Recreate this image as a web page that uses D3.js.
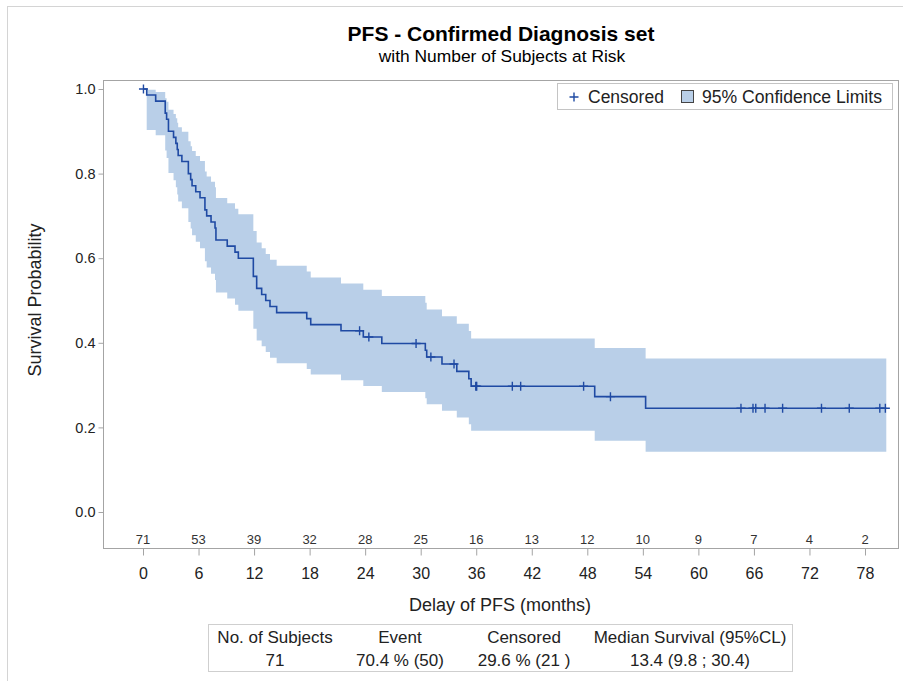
<!DOCTYPE html>
<html>
<head>
<meta charset="utf-8">
<script src="https://cdn.jsdelivr.net/npm/d3@7"></script>
<style>
	body { margin: 0; background: #fff; }
	svg { display: block; font-family: "Liberation Sans", Arial, sans-serif; }
</style>
</head>
<body>
<div id="chart"></div>
<script>
var w = 903;
var h = 681;

// axis ticks and number at risk
var xTicks = [0, 6, 12, 18, 24, 30, 36, 42, 48, 54, 60, 66, 72, 78];
var atRisk = [71, 53, 39, 32, 28, 25, 16, 13, 12, 10, 9, 7, 4, 2];
var yTicks = [0, 0.2, 0.4, 0.6, 0.8, 1.0];

// Kaplan-Meier steps (months), survival and 95% limits after each step
var stepTimes = [0, 0.4, 1.37, 2.4, 2.55, 2.75, 3.3, 3.55, 3.7, 3.8, 4.2, 4.9, 5.15, 5.3, 5.7,
	6.16, 6.69, 6.88, 7.35, 7.78, 7.88, 9.1, 9.94, 10.3, 11.92, 12.28, 12.82, 13.26, 13.72, 14.44,
	17.69, 18.12, 21.39, 23.8, 25.8, 30.5, 30.65, 32.3, 33.9, 35.2, 35.45, 48.8, 54.3];
var survival = [1, 0.9857, 0.9714, 0.9429, 0.9286, 0.9000, 0.8857, 0.8714, 0.8571, 0.8429, 0.8286, 0.8000, 0.7857, 0.7714, 0.7571,
	0.7429, 0.7143, 0.7000, 0.6857, 0.6714, 0.6429, 0.6286, 0.6143, 0.6000, 0.5571, 0.5286, 0.5143, 0.5000, 0.4857, 0.4714,
	0.4571, 0.4429, 0.4286, 0.4138, 0.3985, 0.3825, 0.3666, 0.3499, 0.3324, 0.3149, 0.2974, 0.2727, 0.2454];
var lowerCL = [1, 0.9029, 0.8906, 0.8549, 0.8369, 0.8017, 0.7844, 0.7675, 0.7508, 0.7342, 0.7179, 0.6858, 0.6700, 0.6543, 0.6388,
	0.6234, 0.5930, 0.5779, 0.5630, 0.5482, 0.5189, 0.5045, 0.4900, 0.4758, 0.4335, 0.4057, 0.3920, 0.3784, 0.3648, 0.3514,
	0.3380, 0.3248, 0.3116, 0.2980, 0.2838, 0.2691, 0.2546, 0.2394, 0.2234, 0.2077, 0.1923, 0.1684, 0.1426];
var upperCL = [1, 0.9980, 0.9928, 0.9782, 0.9696, 0.9510, 0.9411, 0.9309, 0.9205, 0.9097, 0.8988, 0.8763, 0.8648, 0.8532, 0.8414,
	0.8295, 0.8052, 0.7929, 0.7805, 0.7680, 0.7426, 0.7298, 0.7169, 0.7038, 0.6641, 0.6372, 0.6236, 0.6100, 0.5962, 0.5824,
	0.5684, 0.5544, 0.5403, 0.5257, 0.5106, 0.4948, 0.4790, 0.4625, 0.4452, 0.4277, 0.4100, 0.3875, 0.3630];
var censorTimes = [0.05, 23.4, 24.4, 29.5, 31.1, 33.6, 35.95, 36.05, 39.9, 40.8, 47.6, 50.5,
	64.6, 65.9, 66.2, 67.2, 69.1, 73.3, 76.3, 79.6, 80.2];
var lastTime = 80.3;

var tableHead = ["No. of Subjects", "Event", "Censored", "Median Survival (95%CL)"];
var tableRow = ["71", "70.4 % (50)", "29.6 % (21 )", "13.4 (9.8 ; 30.4)"];
var tableCols = [275, 400, 524, 690];

var lineColor = "#1f4aa3";
var bandColor = "#b9cfe8";
var frameColor = "#a4a4a4";

var svg = d3.select("#chart")
	.append("svg")
	.attr("width", w)
	.attr("height", h);

// outer border of the picture
svg.append("rect")
	.attr("x", 7.5).attr("y", 6.5)
	.attr("width", 920).attr("height", 700)
	.attr("fill", "none")
	.attr("stroke", "#d4d4d4");

var plot = { left: 103, top: 80, right: 898, bottom: 548 };

var x = d3.scaleLinear().domain([0, 78]).range([143, 865]);
var y = d3.scaleLinear().domain([0, 1]).range([512, 89]);

// titles
svg.append("text")
	.attr("x", 501).attr("y", 41)
	.attr("text-anchor", "middle")
	.attr("font-size", "21px")
	.attr("font-weight", "bold")
	.text("PFS - Confirmed Diagnosis set");
svg.append("text")
	.attr("x", 502).attr("y", 62)
	.attr("text-anchor", "middle")
	.attr("font-size", "17.4px")
	.text("with Number of Subjects at Risk");

// confidence band and survival curve
var pts = stepTimes.map(function (t, i) {
	return { t: t, s: survival[i], lo: lowerCL[i], hi: upperCL[i] };
});
var last = pts[pts.length - 1];
pts.push({ t: lastTime, s: last.s, lo: last.lo, hi: last.hi });

var band = d3.area()
	.curve(d3.curveStepAfter)
	.x(function (d) { return x(d.t); })
	.y0(function (d) { return y(d.lo); })
	.y1(function (d) { return y(d.hi); });

svg.append("path")
	.datum(pts)
	.attr("d", band)
	.attr("fill", bandColor);

var line = d3.line()
	.curve(d3.curveStepAfter)
	.x(function (d) { return x(d.t); })
	.y(function (d) { return y(d.s); });

svg.append("path")
	.datum(pts)
	.attr("d", line)
	.attr("fill", "none")
	.attr("stroke", lineColor)
	.attr("stroke-width", 1.6);

// censored marks
var plus = "M-4.5,0H4.5M0,-4.5V4.5";
svg.selectAll(".censor")
	.data(censorTimes)
	.enter()
	.append("path")
	.attr("class", "censor")
	.attr("d", plus)
	.attr("transform", function (t) {
		var i = d3.bisectRight(stepTimes, t) - 1;
		return "translate(" + x(t) + "," + y(survival[i]) + ")";
	})
	.attr("fill", "none")
	.attr("stroke", lineColor)
	.attr("stroke-width", 1.4);

// frame
svg.append("rect")
	.attr("x", plot.left + 0.5).attr("y", plot.top + 0.5)
	.attr("width", plot.right - plot.left).attr("height", plot.bottom - plot.top)
	.attr("fill", "none")
	.attr("stroke", frameColor);

// y axis
var yAxis = svg.append("g")
	.attr("transform", "translate(" + (plot.left + 0.5) + ",0)")
	.call(d3.axisLeft(y).tickValues(yTicks).tickFormat(d3.format(".1f")).tickSizeOuter(0).tickSize(5).tickPadding(3));
yAxis.select(".domain").remove();
yAxis.selectAll("line").attr("stroke", frameColor);
yAxis.selectAll("text")
	.attr("font-family", "Liberation Sans, Arial, sans-serif")
	.attr("font-size", "14.5px")
	.attr("fill", "#222");

// x axis
var xAxis = svg.append("g")
	.attr("transform", "translate(0," + (plot.bottom + 0.5) + ")")
	.call(d3.axisBottom(x).tickValues(xTicks).tickSizeOuter(0).tickSize(7).tickPadding(12));
xAxis.select(".domain").remove();
xAxis.selectAll("line").attr("stroke", frameColor);
xAxis.selectAll("text")
	.attr("font-family", "Liberation Sans, Arial, sans-serif")
	.attr("font-size", "16px")
	.attr("fill", "#222");

// axis labels
svg.append("text")
	.attr("x", 500).attr("y", 611)
	.attr("text-anchor", "middle")
	.attr("font-size", "18px")
	.attr("fill", "#222")
	.text("Delay of PFS (months)");
svg.append("text")
	.attr("transform", "translate(41,300) rotate(-90)")
	.attr("text-anchor", "middle")
	.attr("font-size", "18px")
	.attr("fill", "#222")
	.text("Survival Probability");

// number at risk
svg.selectAll(".risk")
	.data(xTicks)
	.enter()
	.append("text")
	.attr("class", "risk")
	.attr("x", function (d) { return x(d); })
	.attr("y", 544)
	.attr("text-anchor", "middle")
	.attr("font-size", "13px")
	.attr("fill", "#333")
	.text(function (d, i) { return atRisk[i]; });

// legend
var leg = svg.append("g");
leg.append("rect")
	.attr("x", 557.5).attr("y", 83.5)
	.attr("width", 335).attr("height", 26)
	.attr("fill", "#fff")
	.attr("stroke", "#c4c4c4");
leg.append("path")
	.attr("d", plus)
	.attr("transform", "translate(574,97)")
	.attr("stroke", lineColor)
	.attr("stroke-width", 1.4);
leg.append("text")
	.attr("x", 588).attr("y", 103)
	.attr("font-size", "17.5px")
	.attr("fill", "#222")
	.text("Censored");
leg.append("rect")
	.attr("x", 681.5).attr("y", 90.5)
	.attr("width", 12).attr("height", 12)
	.attr("fill", bandColor)
	.attr("stroke", "#444");
leg.append("text")
	.attr("x", 702).attr("y", 103)
	.attr("font-size", "17.6px")
	.attr("fill", "#222")
	.text("95% Confidence Limits");

// summary table
svg.append("rect")
	.attr("x", 208.5).attr("y", 624.5)
	.attr("width", 584).attr("height", 47)
	.attr("fill", "none")
	.attr("stroke", "#cfcfcf");
svg.selectAll(".thead")
	.data(tableHead)
	.enter()
	.append("text")
	.attr("class", "thead")
	.attr("x", function (d, i) { return tableCols[i]; })
	.attr("y", 643)
	.attr("text-anchor", "middle")
	.attr("font-size", "17px")
	.attr("fill", "#222")
	.text(function (d) { return d; });
svg.selectAll(".trow")
	.data(tableRow)
	.enter()
	.append("text")
	.attr("class", "trow")
	.attr("x", function (d, i) { return tableCols[i]; })
	.attr("y", 666)
	.attr("text-anchor", "middle")
	.attr("font-size", "17px")
	.attr("fill", "#222")
	.text(function (d) { return d; });
</script>
</body>
</html>
